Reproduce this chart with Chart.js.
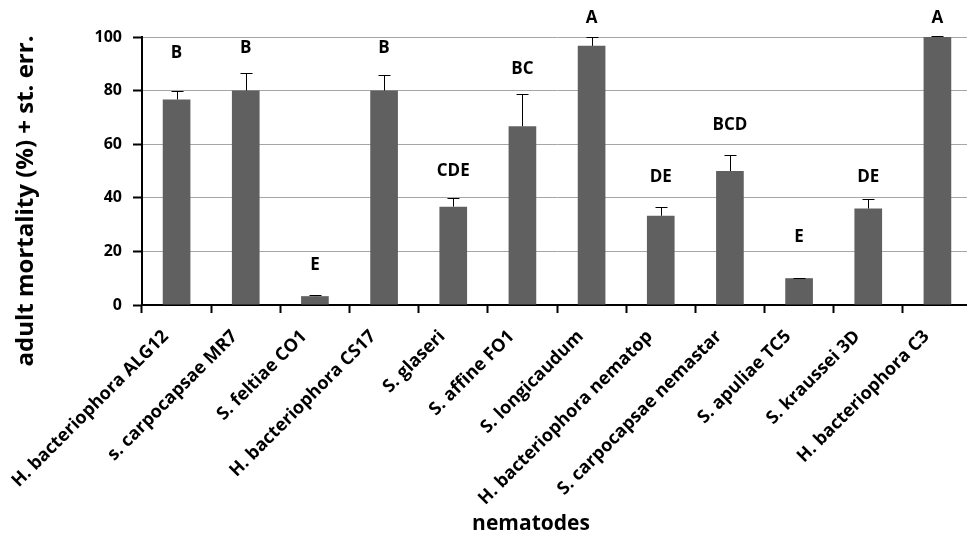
<!DOCTYPE html>
<html><head><meta charset="utf-8">
<script src="https://cdn.jsdelivr.net/npm/chart.js@4/dist/chart.umd.min.js"></script>
<style>
html,body{margin:0;padding:0;overflow:hidden;background:#fff;width:967px;height:539px}
#wrap{width:972px;height:539px;position:relative}
</style></head>
<body><div id="wrap"><canvas id="c" width="972" height="539"></canvas></div>
<script>
const categories = ['H. bacteriophora ALG12','s. carpocapsae MR7','S. feltiae CO1','H. bacteriophora CS17','S. glaseri','S. affine FO1','S. longicaudum','H. bacteriophora nematop','S. carpocapsae nemastar','S. apuliae TC5','S. kraussei 3D','H. bacteriophora C3'];
const mortality = [76.7, 80, 3.3, 80, 36.7, 66.7, 96.7, 33.3, 50, 10, 36, 100];
const stdErr = [3.3, 6.7, 0.3, 5.8, 3.3, 12, 3.3, 3.3, 6, 0.2, 3.5, 0.2];
const letters = ['B','B','E','B','CDE','BC','A','DE','BCD','E','DE','A'];
const letterLevels = [94, 96, 15, 96, 50, 88, 107, 47.7, 67, 25.5, 47.7, 107];
const yTicks = [0, 20, 40, 60, 80, 100];

const FONT = '"Open Sans", "Noto Sans", sans-serif';

const errPlugin = {
  id: 'errLetters',
  afterDatasetsDraw(chart) {
    const ctx = chart.ctx;
    const meta = chart.getDatasetMeta(0);
    const y = chart.scales.y;
    ctx.save();
    ctx.strokeStyle = '#000';
    ctx.lineWidth = 1;
    meta.data.forEach((bar, i) => {
      const x = Math.round(bar.x) + 0.5;
      const top = y.getPixelForValue(mortality[i]);
      const et = Math.round(y.getPixelForValue(mortality[i] + stdErr[i])) + 0.5;
      ctx.beginPath();
      ctx.moveTo(x, top);
      ctx.lineTo(x, et);
      ctx.moveTo(x - 6, et);
      ctx.lineTo(x + 6, et);
      ctx.stroke();
      ctx.fillStyle = '#000';
      ctx.font = 'bold 17px ' + FONT;
      ctx.textAlign = 'center';
      ctx.textBaseline = 'middle';
      ctx.fillText(letters[i], bar.x, y.getPixelForValue(letterLevels[i]));
    });
    ctx.restore();
  }
};

const titlePlugin = {
  id: 'axisTitles',
  afterDraw(chart) {
    const ctx = chart.ctx;
    ctx.save();
    ctx.fillStyle = '#000';
    ctx.textAlign = 'center';
    ctx.textBaseline = 'middle';
    ctx.font = 'bold 21px ' + FONT;
    ctx.fillText('nematodes', 531, 524);
    ctx.font = 'bold 24px ' + FONT;
    ctx.translate(26, 201);
    ctx.rotate(-Math.PI / 2);
    ctx.fillText('adult mortality (%) + st. err.', 0, 0);
    ctx.restore();
  }
};

new Chart(document.getElementById('c'), {
  type: 'bar',
  data: {
    labels: categories,
    datasets: [{
      data: mortality,
      backgroundColor: '#606060',
      borderWidth: 0,
      barPercentage: 0.4,
      categoryPercentage: 1.0
    }]
  },
  options: {
    responsive: false,
    animation: false,
    layout: { padding: { top: 37, left: 0, right: 0, bottom: 0 } },
    plugins: { legend: { display: false }, tooltip: { enabled: false } },
    scales: {
      x: {
        offset: true,
        grid: { display: true, drawOnChartArea: false, offset: true, tickLength: 8, tickColor: '#000', tickWidth: 2, color: '#000' },
        border: { color: '#000', width: 2 },
        ticks: { color: '#000', font: { family: FONT, weight: 'bold', size: 18 }, minRotation: 45, maxRotation: 45, padding: 13, labelOffset: -11, autoSkip: false },
        afterFit(s) { s.height = 539 - 305; s.paddingLeft = 0; s.paddingRight = 0; }
      },
      y: {
        min: 0, max: 100,
        afterBuildTicks(s) { s.ticks = yTicks.map(v => ({ value: v })); },
        grid: {
          color: (c) => c.tick && c.tick.value === 0 ? 'rgba(0,0,0,0)' : '#a6a6a6',
          lineWidth: 1, tickLength: 9, tickColor: '#000', tickWidth: 2
        },
        border: { color: '#000', width: 2 },
        ticks: { color: '#000', font: { family: FONT, weight: 'bold', size: 16 }, padding: 11 },
        afterFit(s) { s.width = 142; }
      }
    }
  },
  plugins: [errPlugin, titlePlugin]
});
</script>
</body></html>
